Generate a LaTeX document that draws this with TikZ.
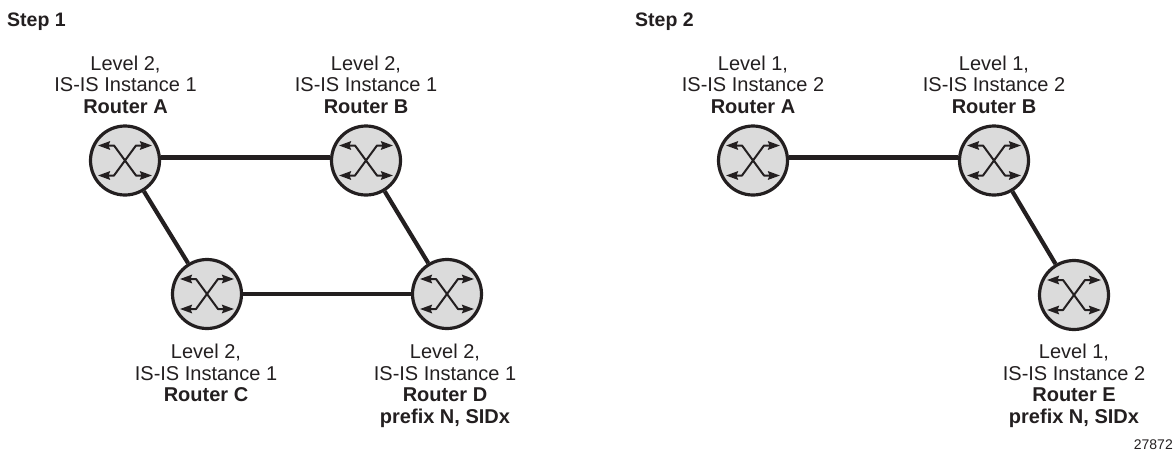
\documentclass[tikz,border=0pt]{standalone}
\usepackage{fontspec}
\setmainfont{Liberation Sans}
\usetikzlibrary{arrows.meta}
\definecolor{ink}{HTML}{231F20}
\tikzset{x=1pt,y=-1pt,
 rtr/.style={circle,draw=ink,fill=black!14,line width=3.2pt,minimum size=69pt,inner sep=0pt},
 lnk/.style={line width=4.2pt,ink},
 lbl/.style={align=center,font=\fontsize{20}{21.5}\selectfont,inner sep=0pt,text=ink},
 ttl/.style={anchor=west,font=\bfseries\fontsize{19.5}{21}\selectfont,inner sep=0pt,text=ink},
 xarr/.style={line width=2pt,ink,line join=round,{Stealth[length=12pt,width=8.5pt,inset=1.5pt]}-{Stealth[length=12pt,width=8.5pt,inset=1.5pt]}}}
\newcommand{\xmark}[1]{%
 \draw[xarr] ([shift={(-27,-15)}]#1.center) -- ([shift={(-11,-15)}]#1.center) -- ([shift={(11,15)}]#1.center) -- ([shift={(27,15)}]#1.center);
 \draw[xarr] ([shift={(-27,15)}]#1.center) -- ([shift={(-11,15)}]#1.center) -- ([shift={(11,-15)}]#1.center) -- ([shift={(27,-15)}]#1.center);}
\begin{document}
\begin{tikzpicture}
\useasboundingbox (0,0) rectangle (1173,451);
\node[rtr] (a) at (125,160.5) {};
\node[rtr] (b) at (366,160.5) {};
\node[rtr] (c) at (207,294) {};
\node[rtr] (d) at (447,294) {};
\node[rtr] (a2) at (753,160.5) {};
\node[rtr] (b2) at (994,160.5) {};
\node[rtr] (e) at (1074,295) {};
\draw[lnk] ([yshift=3pt]a.east) -- ([yshift=3pt]b.west);
\draw[lnk] (a) -- (c);
\draw[lnk] (c) -- (d);
\draw[lnk] (b) -- (d);
\draw[lnk] ([yshift=3pt]a2.east) -- ([yshift=3pt]b2.west);
\draw[lnk] (b2) -- (e);
\foreach \n in {a,b,c,d,a2,b2,e}{\xmark{\n}}
\node[ttl] (t1) at (7,22) {Step 1};
\node[ttl] (t2) at (635,22) {Step 2};
\node[lbl] (la) at (125.5,84.5) {Level 2,\\IS-IS Instance 1\\\textbf{Router A}};
\node[lbl] (lb) at (366,84.5) {Level 2,\\IS-IS Instance 1\\\textbf{Router B}};
\node[lbl,anchor=north] (lc) at (206,344) {Level 2,\\IS-IS Instance 1\\\textbf{Router C}};
\node[lbl,anchor=north] (ld) at (445,344) {Level 2,\\IS-IS Instance 1\\\textbf{Router D}\\\textbf{prefix N, SIDx}};
\node[lbl] (la2) at (753,84.5) {Level 1,\\IS-IS Instance 2\\\textbf{Router A}};
\node[lbl] (lb2) at (994,84.5) {Level 1,\\IS-IS Instance 2\\\textbf{Router B}};
\node[lbl,anchor=north] (le) at (1074,344) {Level 1,\\IS-IS Instance 2\\\textbf{Router E}\\\textbf{prefix N, SIDx}};
\node[anchor=east,inner sep=0pt,text=ink,font=\fontsize{14}{16}\selectfont] (n) at (1173,445) {27872};
\end{tikzpicture}
\end{document}
